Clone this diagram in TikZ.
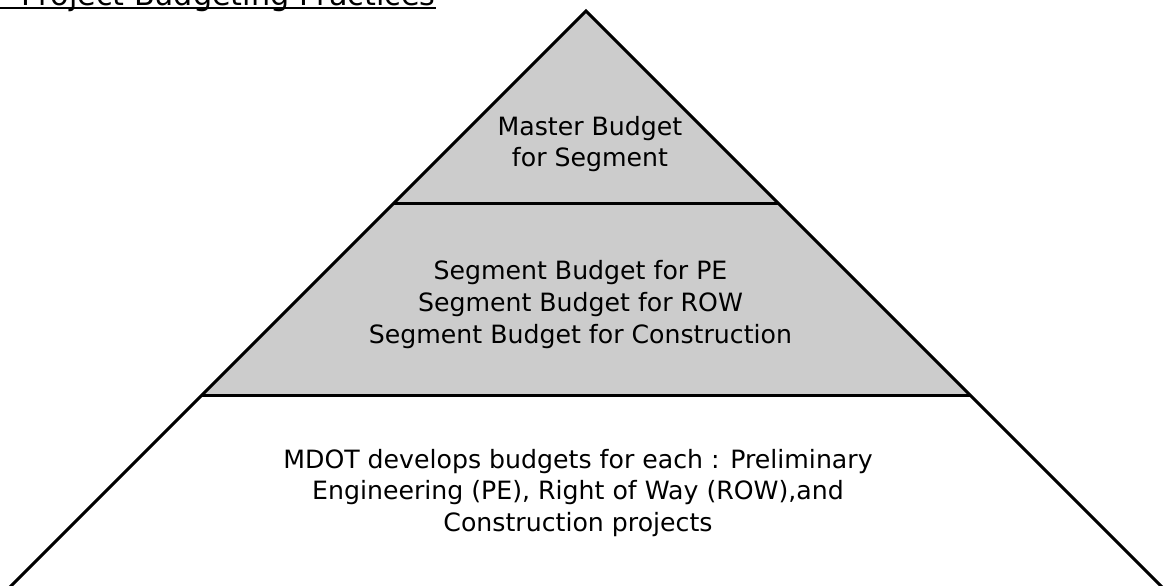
\documentclass[tikz,border=0pt]{standalone}
\usepackage{fontspec}
\setmainfont{DejaVu Sans}
\definecolor{tierfill}{HTML}{CCCCCC}

\begin{document}
\begin{tikzpicture}[x=1bp,y=-1bp,
  tier/.style={fill=tierfill},
  outline/.style={line width=3bp,draw=black},
  tiertext/.style={align=center,inner sep=0pt,
    font=\fontsize{25.2bp}{31.8bp}\selectfont},
  heading/.style={anchor=base west,inner sep=0pt,
    font=\fontsize{30.2bp}{36bp}\selectfont}]
\useasboundingbox (0,0) rectangle (1167,586);
% two shaded tiers at the top
\fill[tier] (586,11) -- (202,395) -- (970,395) -- cycle;
% sides run on past the bottom edge
\draw[outline] (-10,607) -- (586,11) -- (1182,607);
\draw[outline] (393,204) -- (779,204);
\draw[outline] (202,395) -- (970,395);
\node[tiertext] (master) at (590,144) {Master Budget\\for Segment};
\node[tiertext] (segment) at (580.5,304.5) {Segment Budget for PE\\
  Segment Budget for ROW\\Segment Budget for Construction};
\node[tiertext] (mdot) at (578,493) {MDOT develops budgets for each : Preliminary\\
  Engineering (PE), Right of Way (ROW),and\\Construction projects};
\node[heading] (title) at (21,6) {Project Budgeting Practices};
\coordinate (ulstart) at (0,8);
\draw[line width=1.2bp] (ulstart) -- (ulstart -| title.east);
\end{tikzpicture}
\end{document}
